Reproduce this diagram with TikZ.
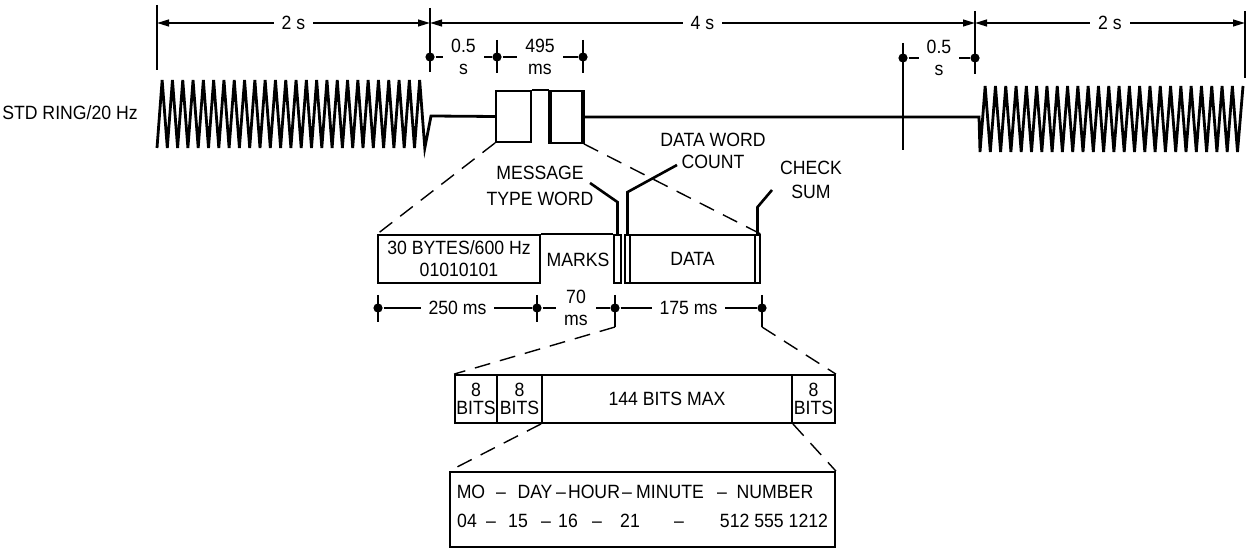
\documentclass[tikz,border=0pt]{standalone}
\usepackage{fontspec}
\setmainfont{Liberation Sans}[FakeStretch=0.92]
\usetikzlibrary{arrows.meta}

\begin{document}
\begin{tikzpicture}[x=0.5pt, y=-0.5pt, line width=0.9pt,
    font=\fontsize{9.6}{11}\selectfont, >={Triangle[length=6pt, width=3.4pt]},
    dot/.style={circle, fill, inner sep=0pt, minimum size=4.6pt},
    lbl/.style={fill=white, inner xsep=4pt, inner ysep=1pt, align=center},
    cell/.style={draw, inner sep=0pt, minimum height=24pt, align=center},
    zoomline/.style={line width=0.7pt, dash pattern=on 8pt off 5pt},
    leader/.style={line width=1.3pt},
    wave/.style={line width=1.4pt, line join=miter}]
  \useasboundingbox (0,0) rectangle (1257,549);

  % cadence ticks and spans
  \foreach \n/\x/\a/\b in {t0/157/5/70, t1/430/8/72, t2/975/11/74, t3/1245/11/78} {
    \draw (\x,\a) -- (\x,\b);
    \coordinate (\n) at (\x,23);
  }
  \draw[<->] (t0) -- node[lbl] (span1) {2 s} (t1);
  \draw[<->] (t1) -- node[lbl] (span2) {4 s} (t2);
  \draw[<->] (t2) -- node[lbl] (span3) {2 s} (t3);

  % short spans
  \node[dot] (s1) at (430,57) {};
  \node[dot] (s2) at (497,57) {};
  \node[dot] (s3) at (583,57) {};
  \node[dot] (s4) at (903,58) {};
  \node[dot] (s5) at (975,58) {};
  \draw (s2.center) ++(0,-17) -- ++(0,33);
  \draw (s3.center) ++(0,-17) -- ++(0,33);
  \draw (s4.center) ++(0,-15) -- ++(0,107);
  \draw (s1) -- node[lbl] (gap1) {0.5\\s} (s2);
  \draw (s2) -- node[lbl] (burst) {495\\ms} (s3);
  \draw (s4) -- node[lbl] (gap2) {0.5\\s} (s5);

  % ring bursts and the data burst
  \node (ring) at (70,113) {STD RING/20 Hz};
  \node[draw, inner sep=0pt, minimum width=17.5pt, minimum height=25.5pt] (mark1) at (513.5,116.5) {};
  \node[draw, inner sep=0pt, minimum width=16.5pt, minimum height=26pt] (mark2) at (566.5,117) {};
  \draw (mark1.north east) -- (mark2.north west);
  \draw[line width=2pt] ([xshift=0.6pt]mark2.north west) -- ([xshift=0.6pt]mark2.south west);
  \draw[line width=2pt] ([xshift=-0.6pt]mark2.north east) -- ([xshift=-0.6pt]mark2.south east);
  \draw[wave] (157,148) \foreach \k in {0,...,25} {
      -- ({157+10.3*\k+5.15},80) -- ({157+10.3*(\k+1)},148)} -- (431,116) -- (mark1.west);
  \draw[wave] (mark2.east) -- (979,117) -- (980,152) \foreach \k in {0,...,24} {
      -- ({980+10.3*\k+5.15},86) -- ({980+10.3*(\k+1)},152)} -- (1243,86);

  % message layout
  \node[cell, minimum width=81pt] (bytes) at (459,259) {30 BYTES/600 Hz\\01010101};
  \node (marks) at (578,260) {MARKS};
  \node[cell, minimum width=3.5pt] (mtw) at (617.5,259) {};
  \node[cell, minimum width=2.5pt] (dwc) at (627.5,259) {};
  \node[cell, minimum width=62.5pt] (data) at (692.5,259) {DATA};
  \node[cell, minimum width=2.5pt] (csum) at (757.5,259) {};
  \draw (bytes.north east) -- (mtw.north west);
  \draw[zoomline] (mark1.south west) -- (bytes.north west);
  \draw[zoomline] (mark2.south east) -- (csum.north east);

  % word labels
  \node[align=center] (mtwtxt) at (540,186) {MESSAGE\\[2pt]TYPE WORD};
  \node[align=center] (dwctxt) at (713,151) {DATA WORD\\COUNT};
  \node[align=center] (cstxt) at (811,180) {CHECK\\[1pt]SUM};
  \coordinate (mtwend) at (590,183);
  \coordinate (dwcend) at (677,165);
  \coordinate (csend) at (772,190);
  \draw[leader] (mtwend) -- ([yshift=16pt]mtw.north) -- (mtw.north);
  \draw[leader] (dwcend) -- ([yshift=21pt]dwc.north) -- (dwc.north);
  \draw[leader] (csend) -- ([yshift=13.5pt]csum.north) -- (csum.north);

  % message timing
  \node[dot] (m1) at (378,308) {};
  \node[dot] (m2) at (537,308) {};
  \node[dot] (m3) at (615,308) {};
  \node[dot] (m4) at (762,308) {};
  \foreach \m in {m1,m2} \draw (\m.center) ++(0,-13) -- ++(0,27);
  \foreach \m in {m3,m4} \draw (\m.center) ++(0,-13) -- ++(0,32) coordinate (\m end);
  \draw (m1) -- node[lbl] (preamble) {250 ms} (m2);
  \draw (m2) -- node[lbl] (markspan) {70\\ms} (m3);
  \draw (m3) -- node[lbl] (dataspan) {175 ms} (m4);

  % data words
  \node[cell, minimum width=21pt] (bit1) at (476,399) {8\\[-2pt]BITS};
  \node[cell, minimum width=22.5pt] (bit2) at (519.5,399) {8\\[-2pt]BITS};
  \node[cell, minimum width=125pt] (bits) at (667,399) {144 BITS MAX};
  \node[cell, minimum width=21.5pt] (bit4) at (813.5,399) {8\\[-2pt]BITS};
  \draw[zoomline] (m3end) -- (bit1.north west);
  \draw[zoomline] (m4end) -- (bit4.north east);

  % time stamp and number
  \node[draw, inner sep=0pt, minimum width=192.5pt, minimum height=37.5pt] (stamp) at (642.5,509.5) {};
  \draw[zoomline] (bits.south west) -- (stamp.north west);
  \draw[zoomline] (bits.south east) -- (stamp.north east);
  \foreach \x/\t [count=\i] in {471/MO, 501/--, 535/DAY, 561/--, 594/HOUR, 627/--, 670/MINUTE, 722/--, 775/NUMBER}
    \node[anchor=base] (f\i) at (\x,498) {\t};
  \foreach \x/\t [count=\i] in {467/04, 491/--, 518/15, 546/--, 568/16, 597/--, 630/21, 679/--, 774/512 555 1212}
    \node[anchor=base] (v\i) at (\x,527) {\t};
\end{tikzpicture}
\end{document}
